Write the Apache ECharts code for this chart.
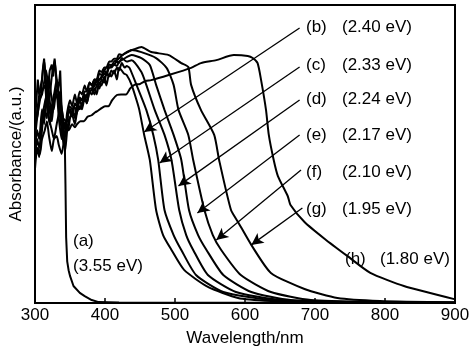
<!DOCTYPE html>
<html>
<head>
<meta charset="utf-8">
<script src="https://cdn.jsdelivr.net/npm/echarts@6/dist/echarts.min.js"></script>
<style>
  html, body { margin: 0; padding: 0; background: #fff; }
  #chart { width: 474px; height: 352px; }
</style>
</head>
<body>
<div id="chart"></div>
<script>
// absorbance spectra, [wavelength nm, absorbance a.u.]
var curveA = [[300,61],[302,68],[304,75],[306,70],[309,71.5],[311,78],[313,82],[315,75],[317,68],[319,73],[321,78],[324,80],[326,76],[328,82],[330,77],[333,71.5],[335,75],[336,78],[338,65],[340,62],[341,58],[342.5,55],[343.5,40],[344.5,22],[346,14],[348,11],[350,9.1],[355,5.7],[364,3.4],[371,2.3],[381,1.0],[391,0.3],[420,0.2],[900,0.1]];
var curveB = [[300,51],[303,58],[306,55],[310,65],[313,60],[317,73],[320,66],[324,61],[327,68],[331,70],[334,62],[338,55],[341,60],[345,61],[349,66],[353,65],[357,62],[360,64],[364,68],[367,66],[371,70],[374,67],[378,71],[381,70],[385,72],[388,70],[392,74],[395,73],[399,76],[402,73],[406,77],[409,76],[413,78],[417,75],[420,79],[424,78],[427,77],[431,76.5],[438,73.2],[445,68.1],[449,64.8],[456,56.4],[464,48.0],[473,31.2],[483,22.8],[495,17.8],[513,11.1],[547,5.4],[590,1.7],[637,0.7],[700,0.3],[900,0.1]];
var curveC = [[300,45],[303,52],[306,49],[310,58],[313,65],[317,62],[320,76],[323,70],[327,65],[330,72],[333,68],[336,71],[339,60],[343,51],[346,58],[349,62],[353,63],[357,60],[360,64],[364,66],[367,65],[371,69],[374,67],[378,71],[381,71.5],[385,70],[388,73],[392,72],[395,75],[399,74],[402,77],[406,76],[409,78],[413,77],[417,79],[420,78],[424,80.5],[428,79],[431,79.5],[435,78.9],[445,73.2],[459,64.8],[469,56.4],[476,48.0],[485,31.2],[498,22.8],[509,17.8],[530,9.4],[569,3.7],[637,1.0],[720,0.3],[900,0.1]];
var curveD = [[300,58],[303,64],[307,71.5],[310,75],[313,81.5],[316,74],[320,68],[324,76],[328,81.5],[331,73],[336,68],[339,64],[343,58],[346,64],[350,68],[353,66],[357,70],[360,67],[364,71],[367,70],[371,73],[374,71],[378,74],[381,73],[385,75],[388,74],[392,77],[395,76.5],[399,78],[402,77],[406,80],[409,79.9],[413,80],[417,81],[420,80.5],[424,82.2],[431,81],[438,81.5],[452,77.5],[459,73.2],[471,64.8],[485,56.4],[495,48.0],[506,31.2],[516,22.8],[526,17.8],[547,9.4],[587,3.7],[651,1.0],[740,0.3],[900,0.1]];
var curveE = [[300,48],[303,55],[306,52],[310,61],[313,66],[317,69.8],[320,62],[324,58],[327,55],[331,60],[336,65],[340,62],[345,61],[349,65],[352,63],[355,66],[359,65],[362,68],[367,68],[370,70],[374,69],[378,72],[381,72],[385,74],[388,73],[392,75],[395,75.5],[399,77],[402,76.5],[406,79],[409,79],[413,80],[417,79.5],[420,81],[424,81.5],[431,82.5],[438,83.2],[452,82.2],[464,79.9],[473,73.2],[485,64.8],[498,56.4],[509,48.0],[520,31.2],[533,22.8],[545,17.8],[569,9.4],[609,3.7],[665,1.0],[760,0.3],[900,0.1]];
var curveF = [[300,65],[303,62],[306,68],[310,70],[313,74],[316,78],[320,70],[324,63],[327,67],[330,70],[333,68],[337,60],[341,53],[345,60],[350,65],[354,63],[357,67],[360,66],[364,69],[367,68],[371,71],[374,71],[378,74],[381,73],[385,75],[388,75],[392,78],[395,77.5],[399,79],[402,79],[406,81],[409,81],[413,82],[417,82],[420,83.5],[424,83.2],[431,84],[438,84.9],[452,84.2],[473,82.2],[488,78.9],[498,73.2],[505,64.8],[519,56.4],[526,48.0],[542,31.2],[554,22.8],[566,17.8],[594,9.4],[637,3.7],[694,1.0],[780,0.3],[900,0.1]];
var curveG = [[300,55],[303,62],[307,68],[310,71],[314,73],[317,66],[321,60],[324,66],[328,71],[331,75],[334,70],[338,61],[342,59],[347,58],[350,62],[353,64],[357,63],[360,66],[364,65],[367,67],[371,68],[374,70],[378,71],[381,71.5],[385,73],[388,75],[392,75],[395,76],[399,78],[402,79],[406,79],[409,79.5],[413,81],[417,81.5],[424,83],[431,84.2],[440,85],[452,85.9],[466,84.2],[491,83.2],[509,80.5],[519,79.2],[523,73.2],[537,64.8],[556,56.4],[563,48.0],[580,31.2],[590,27.2],[609,19.5],[637,10.1],[685,4.7],[732,1.7],[793,0.7],[900,0.2]];
var curveH = [[300,48],[304,52],[307,50],[310,55],[314,58],[317,61],[320,56],[324,51],[327,55],[331,56],[334,53],[338,50],[341,54],[343,58],[348,58],[353,60],[357,59],[360,60],[365,61],[370,61],[375,62.5],[381,63],[386,64],[390,64.5],[395,65.4],[400,66],[405,66],[410,68],[417,69.8],[423,70],[430,70],[436,72],[442,73.2],[450,73.5],[458,74.5],[466,74.8],[491,76.5],[523,78.9],[537,80.5],[559,81.5],[584,83.2],[604,82.9],[611,82.2],[618,80.5],[623,74.8],[630,64.8],[634,56.4],[641,48.0],[647,42.6],[661,35.9],[665,32.9],[685,27.2],[714,21.5],[746,15.8],[779,10.1],[827,5.7],[899,1.3]];

var curves = [curveA, curveB, curveC, curveD, curveE, curveF, curveG, curveH];
var sampleNames = ['(a)', '(b)', '(c)', '(d)', '(e)', '(f)', '(g)', '(h)'];
var bandGaps = ['(3.55 eV)', '(2.40 eV)', '(2.33 eV)', '(2.24 eV)', '(2.17 eV)', '(2.10 eV)', '(1.95 eV)', '(1.80 eV)'];
var xTicks = [300, 400, 500, 600, 700, 800, 900];

// arrows from labels (b)-(g) to their curves: [startX, startY, endX, endY]
var arrowLines = [
  [678, 92.3, 456, 57.4],
  [678, 79.2, 478, 47.0],
  [678, 68.1, 505, 39.3],
  [678, 56.4, 532, 30.2],
  [680, 44.6, 559, 21.1],
  [682, 31.9, 609, 19.5]
];

var FONT = '"Liberation Sans", Arial, sans-serif';
var chart = echarts.init(document.getElementById('chart'));

var series = curves.map(function (c, i) {
  return {
    name: sampleNames[i],
    type: 'line',
    data: c,
    showSymbol: false,
    smooth: i === 0 ? false : 0.2,
    lineStyle: { color: '#000', width: 2 },
    animation: false
  };
});

series.push({
  type: 'line',
  data: [],
  animation: false,
  markLine: {
    silent: true,
    symbol: ['none', 'arrow'],
    symbolSize: [9, 12],
    label: { show: false },
    lineStyle: { color: '#000', width: 1.3, type: 'solid' },
    data: arrowLines.map(function (a) {
      return [{ coord: [a[0], a[1]] }, { coord: [a[2], a[3]] }];
    })
  }
});

// text labels next to the arrow tails
var labelPos = [[73, 241, 73, 266], [306, 27, 342, 27], [306, 65, 342, 65], [306, 99, 342, 99],
  [306, 135, 342, 135], [306, 172, 342, 172], [306, 209, 342, 209], [345, 259, 380, 259]];
var graphics = [];
labelPos.forEach(function (p, i) {
  graphics.push({ type: 'text', x: p[0], y: p[1], style: { text: sampleNames[i], fill: '#000', font: '17px ' + FONT, verticalAlign: 'middle' } });
  graphics.push({ type: 'text', x: p[2], y: p[3], style: { text: bandGaps[i], fill: '#000', font: '17px ' + FONT, verticalAlign: 'middle' } });
});

var option = {
  backgroundColor: '#fff',
  grid: {
    left: 33, right: 19, top: 5, bottom: 49,
    show: true, borderColor: '#000', borderWidth: 2
  },
  xAxis: {
    type: 'value',
    min: 300, max: 900, interval: 100,
    name: 'Wavelength/nm',
    nameLocation: 'middle',
    nameGap: 27,
    nameTextStyle: { color: '#000', fontSize: 17, fontFamily: FONT },
    axisLine: { lineStyle: { color: '#000', width: 2 } },
    axisTick: { inside: true, length: 5, lineStyle: { color: '#000', width: 1.5 } },
    axisLabel: {
      color: '#000', fontSize: 17, fontFamily: FONT, margin: 4,
      showMinLabel: true, showMaxLabel: true,
      formatter: function (v) { return xTicks.indexOf(v) >= 0 ? String(v) : ''; }
    },
    splitLine: { show: false }
  },
  yAxis: {
    type: 'value',
    min: 0, max: 100,
    name: 'Absorbance/(a.u.)',
    nameLocation: 'middle',
    nameGap: 10,
    nameTextStyle: { color: '#000', fontSize: 17, fontFamily: FONT },
    axisLine: { show: true, lineStyle: { color: '#000', width: 2 } },
    axisTick: { show: false },
    axisLabel: { show: false },
    splitLine: { show: false }
  },
  graphic: graphics,
  series: series
};

chart.setOption(option);
</script>
</body>
</html>
